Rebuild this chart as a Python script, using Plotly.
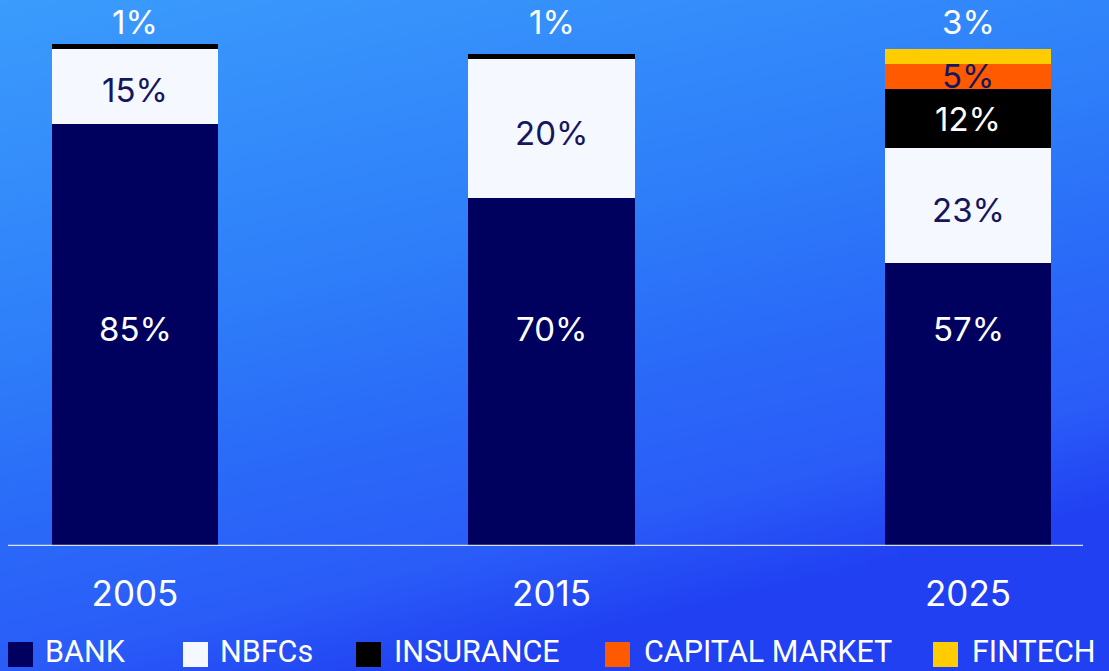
import base64
import plotly.graph_objects as go

# ---------------- data ----------------
years = ["2005", "2015", "2025"]
series_names = ["BANK", "NBFCs", "INSURANCE", "CAPITAL MARKET", "FINTECH"]
bank = [85, 70, 57]
nbfc = [15, 28, 23]
insurance = [1, 1, 12]
capital_market = [0, 0, 5]
fintech = [0, 0, 3]

bank_labels = ["85%", "70%", "57%"]
nbfc_labels = ["15%", "20%", "23%"]
insurance_labels = ["", "", "12%"]
capital_labels = ["", "", "5%"]
top_labels = ["1%", "1%", "3%"]

colors = ["#00005f", "#f5f9ff", "#000000", "#ff5a00", "#ffcc00"]
NAVY_TEXT = "#16165e"

W, H = 1109, 671
ML, MR, MT, MB = 0, 0, 0, 125
PLOT_H = H - MT - MB

def px_x(px):
    return (px - ML) / (W - ML - MR)

def px_y(py):
    return (H - MB - py) / PLOT_H

# ---------------- background gradient ----------------
svg = (
    '<svg xmlns="http://www.w3.org/2000/svg" width="1109" height="671" '
    'viewBox="0 0 1109 671" preserveAspectRatio="none">'
    '<defs><linearGradient id="g" x1="0" y1="0" x2="0.4" y2="1">'
    '<stop offset="0" stop-color="#3b9cfc"/>'
    '<stop offset="0.45" stop-color="#2e7ef9"/>'
    '<stop offset="0.65" stop-color="#2a6cf8"/>'
    '<stop offset="0.86" stop-color="#2a5cf8"/>'
    '<stop offset="1" stop-color="#2040f2"/>'
    '</linearGradient></defs>'
    '<rect x="0" y="0" width="1109" height="671" fill="url(#g)"/></svg>'
)
bg_src = "data:image/svg+xml;base64," + base64.b64encode(svg.encode()).decode()

# ---------------- figure ----------------
fig = go.Figure()
all_series = [bank, nbfc, insurance, capital_market, fintech]
for name, vals, col in zip(series_names, all_series, colors):
    fig.add_trace(go.Bar(
        x=years, y=vals, name=name, width=0.4,
        marker=dict(color=col, line=dict(width=0)),
        showlegend=False, hoverinfo="x+y+name",
    ))

annotations = []
FONT_FAMILY = "Inter, Lato, sans-serif"
LABEL_SIZE = 33

def label(i, y, text, color):
    return dict(xref="x", yref="y", x=i, y=y, text=text, showarrow=False,
                font=dict(family=FONT_FAMILY, size=LABEL_SIZE, color=color))

BANK_LABEL_Y = 43.7
TOP_LABEL_Y = 105.4
NBFC_SHIFT = -0.8
for i in range(len(years)):
    annotations.append(label(i, BANK_LABEL_Y, bank_labels[i], "white"))
    base = bank[i]
    annotations.append(label(i, base + nbfc[i] / 2 + NBFC_SHIFT, nbfc_labels[i], NAVY_TEXT))
    base += nbfc[i]
    if insurance_labels[i]:
        annotations.append(label(i, base + insurance[i] / 2, insurance_labels[i], "white"))
    base += insurance[i]
    if capital_labels[i]:
        annotations.append(label(i, base + capital_market[i] / 2, capital_labels[i], NAVY_TEXT))
    annotations.append(label(i, TOP_LABEL_Y, top_labels[i], "white"))

# custom legend
legend_marker_px = [8, 183, 356, 605, 933]
legend_text_px = [43, 218, 392, 642, 970]
shapes = []
for name, col, mx, tx in zip(series_names, colors, legend_marker_px, legend_text_px):
    shapes.append(dict(type="rect", xref="paper", yref="paper",
                       x0=px_x(mx), x1=px_x(mx + 25), y0=px_y(667), y1=px_y(642),
                       fillcolor=col, line=dict(width=0)))
    annotations.append(dict(xref="paper", yref="paper", x=px_x(tx), y=px_y(651),
                            xanchor="left", yanchor="middle", text=name, showarrow=False,
                            font=dict(family="Roboto, sans-serif", size=30.5, color="white")))

# baseline
shapes.append(dict(type="line", xref="paper", yref="y", x0=px_x(8), x1=px_x(1083),
                   y0=0, y1=0, line=dict(color="rgba(230,234,250,0.95)", width=2.5)))

unit = 416.5
x0 = -(135 - ML) / unit
x1 = x0 + (W - ML - MR) / unit

fig.update_layout(
    width=W, height=H,
    margin=dict(l=ML, r=MR, t=MT, b=MB),
    barmode="stack",
    paper_bgcolor="rgba(0,0,0,0)",
    plot_bgcolor="rgba(0,0,0,0)",
    images=[dict(source=bg_src, xref="paper", yref="paper", x=0, y=1,
                 sizex=1, sizey=H / PLOT_H, xanchor="left", yanchor="top",
                 sizing="stretch", layer="below")],
    xaxis=dict(type="category", range=[x0, x1], showgrid=False, zeroline=False,
               showline=False, ticks="", ticklabelstandoff=24,
               tickfont=dict(family=FONT_FAMILY, size=35, color="white")),
    yaxis=dict(range=[0, PLOT_H / 4.97], visible=False, showgrid=False, zeroline=False),
    annotations=annotations,
    shapes=shapes,
    showlegend=False,
)

fig.write_html(
    "out.html",
    config={"displayModeBar": False},
    post_script="document.body.style.margin='0';document.body.style.overflow='hidden';",
)
